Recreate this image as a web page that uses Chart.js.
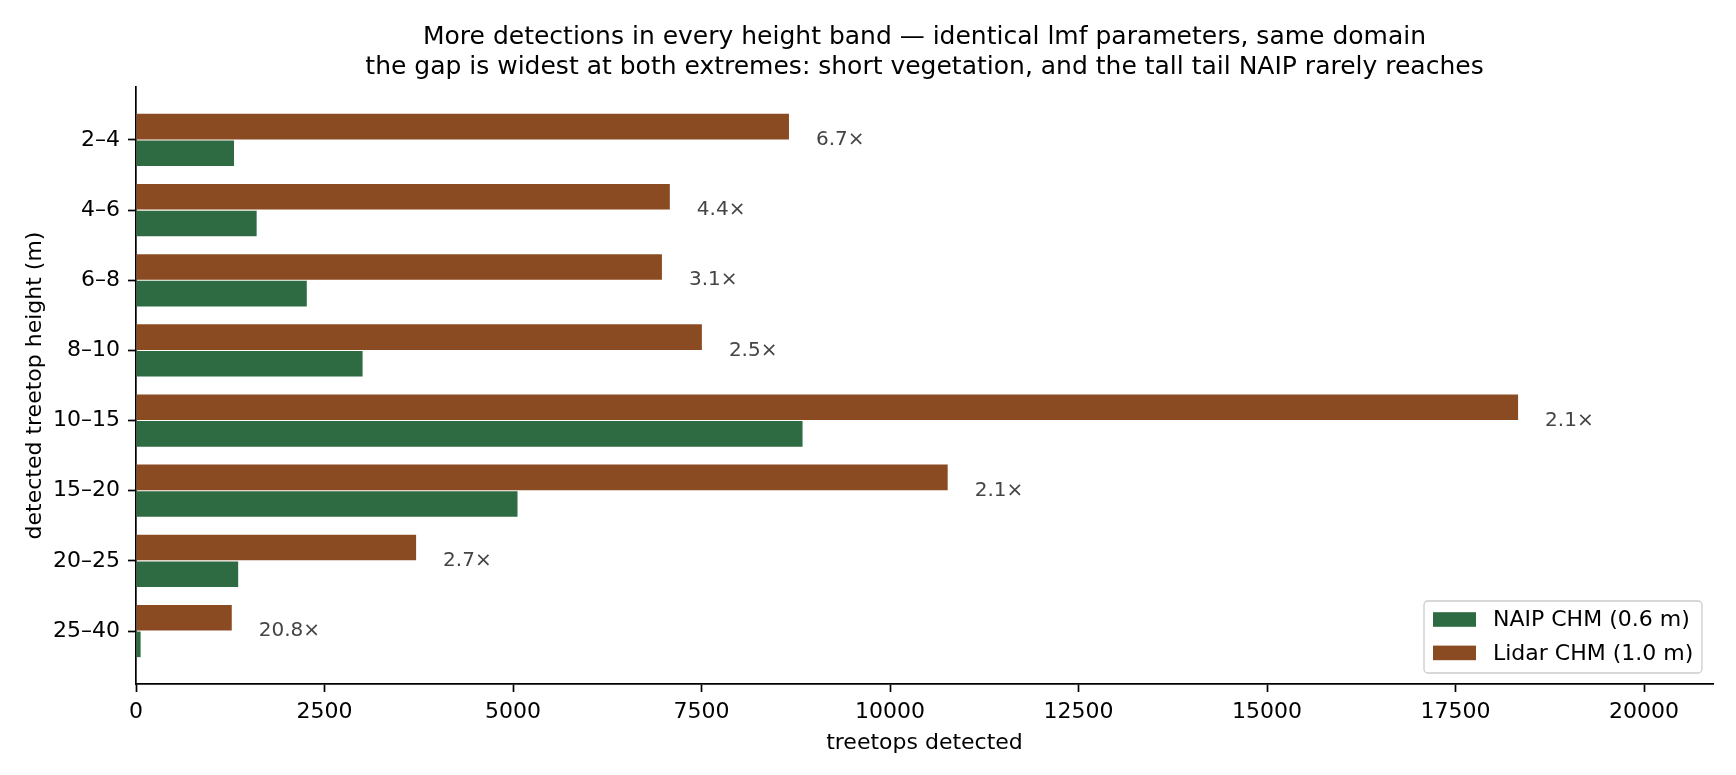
<!DOCTYPE html>
<html>
<head>
<meta charset="utf-8">
<script src="https://cdn.jsdelivr.net/npm/chart.js@4/dist/chart.umd.min.js"></script>
<style>
  html, body { margin: 0; padding: 0; background: #fff; }
  #wrap { width: 1736px; height: 775px; }
</style>
</head>
<body>
<div id="wrap"><canvas id="c" width="1736" height="775"></canvas></div>
<script>
// ---- data ----
const categories = ['2–4', '4–6', '6–8', '8–10', '10–15', '15–20', '20–25', '25–40'];
const naipCounts = [1300, 1600, 2265, 3005, 8840, 5060, 1355, 61];
const lidarCounts = [8660, 7080, 6975, 7505, 18330, 10765, 3715, 1270];
const ratioLabels = ['6.7×', '4.4×', '3.1×', '2.5×', '2.1×', '2.1×', '2.7×', '20.8×'];
const xTicks = [0, 2500, 5000, 7500, 10000, 12500, 15000, 17500, 20000];
const titleLines = [
  'More detections in every height band — identical lmf parameters, same domain',
  'the gap is widest at both extremes: short vegetation, and the tall tail NAIP rarely reaches'
];
const seriesNames = ['Lidar CHM (1.0 m)', 'NAIP CHM (0.6 m)'];

const FONT = 'DejaVu Sans';
const GREEN = '#2E6B42';
const BROWN = '#8B4B22';
const FS = 22;

const toPoints = arr => arr.map((v, i) => ({ x: v, y: i }));

const extras = {
  id: 'extras',
  afterDraw(chart) {
    const ctx = chart.ctx;
    const xs = chart.scales.x, ys = chart.scales.y;
    const ca = chart.chartArea;
    ctx.save();
    // title
    ctx.fillStyle = '#000';
    ctx.font = '25px "' + FONT + '"';
    ctx.textAlign = 'center';
    ctx.textBaseline = 'alphabetic';
    const cx = (ca.left + ca.right) / 2;
    ctx.fillText(titleLines[0], cx, 44);
    ctx.fillText(titleLines[1], cx, 74);
    // ratio annotations
    ctx.fillStyle = '#444';
    ctx.font = '20px "' + FONT + '"';
    ctx.textAlign = 'left';
    ctx.textBaseline = 'middle';
    categories.forEach((c, i) => {
      const px = xs.getPixelForValue(lidarCounts[i]) + 27;
      const py = ys.getPixelForValue(i);
      ctx.fillText(ratioLabels[i], px, py);
    });
    // legend (NAIP first, then Lidar)
    const bx = 1424, by = 601, bw = 278, bh = 72, r = 4;
    ctx.beginPath();
    ctx.moveTo(bx + r, by);
    ctx.lineTo(bx + bw - r, by);
    ctx.arcTo(bx + bw, by, bx + bw, by + r, r);
    ctx.lineTo(bx + bw, by + bh - r);
    ctx.arcTo(bx + bw, by + bh, bx + bw - r, by + bh, r);
    ctx.lineTo(bx + r, by + bh);
    ctx.arcTo(bx, by + bh, bx, by + bh - r, r);
    ctx.lineTo(bx, by + r);
    ctx.arcTo(bx, by, bx + r, by, r);
    ctx.closePath();
    ctx.fillStyle = 'rgba(255,255,255,0.8)';
    ctx.fill();
    ctx.strokeStyle = '#cccccc';
    ctx.lineWidth = 1.3;
    ctx.stroke();
    const entries = [
      { label: chart.data.datasets[1].label, color: chart.data.datasets[1].backgroundColor },
      { label: chart.data.datasets[0].label, color: chart.data.datasets[0].backgroundColor }
    ];
    ctx.font = FS + 'px "' + FONT + '"';
    ctx.textBaseline = 'middle';
    ctx.textAlign = 'left';
    entries.forEach((e, k) => {
      const cy = 619.5 + k * 33.4;
      ctx.fillStyle = e.color;
      ctx.fillRect(1433, cy - 7.3, 43, 14.6);
      ctx.fillStyle = '#000';
      ctx.fillText(e.label, 1493, cy + 1);
    });
    ctx.restore();
  }
};

new Chart(document.getElementById('c'), {
  type: 'bar',
  data: {
    datasets: [
      { label: seriesNames[0], data: toPoints(lidarCounts), backgroundColor: BROWN,
        categoryPercentage: 0.76, barPercentage: 0.96 },
      { label: seriesNames[1], data: toPoints(naipCounts), backgroundColor: GREEN,
        categoryPercentage: 0.76, barPercentage: 0.96 }
    ]
  },
  options: {
    indexAxis: 'y',
    responsive: false,
    animation: false,
    devicePixelRatio: 1,
    layout: { padding: { top: 87, right: 23, left: 0, bottom: 0 } },
    plugins: {
      legend: { display: false },
      tooltip: { enabled: false },
      title: { display: false }
    },
    scales: {
      x: {
        type: 'linear',
        position: 'bottom',
        min: 0,
        max: 20915,
        offset: false,
        afterBuildTicks: s => { s.ticks = xTicks.map(v => ({ value: v })); },
        afterFit: s => { s.height = 91; },
        grid: { offset: false, drawOnChartArea: false, drawTicks: true, tickLength: 8, tickWidth: 1.7, tickColor: '#000' },
        border: { display: true, color: '#000', width: 1.7 },
        ticks: { color: '#000', font: { family: FONT, size: FS }, padding: 7, maxRotation: 0, autoSkip: false,
                 callback: v => String(v) },
        title: { display: true, text: 'treetops detected', color: '#000',
                 font: { family: FONT, size: FS }, padding: { top: 0, bottom: 18.8 } }
      },
      y: {
        type: 'linear',
        position: 'left',
        reverse: true,
        offset: false,
        min: -0.755,
        max: 7.755,
        afterBuildTicks: s => { s.ticks = categories.map((c, i) => ({ value: i })); },
        afterFit: s => { s.width = 136; },
        grid: { offset: false, drawOnChartArea: false, drawTicks: true, tickLength: 8, tickWidth: 1.7, tickColor: '#000' },
        border: { display: true, color: '#000', width: 1.7 },
        ticks: { color: '#000', font: { family: FONT, size: FS }, padding: 8, autoSkip: false,
                 callback: v => categories[v] },
        title: { display: true, text: 'detected treetop height (m)', color: '#000',
                 font: { family: FONT, size: FS }, padding: { top: 22, bottom: 0 } }
      }
    }
  },
  plugins: [extras]
});
</script>
</body>
</html>
